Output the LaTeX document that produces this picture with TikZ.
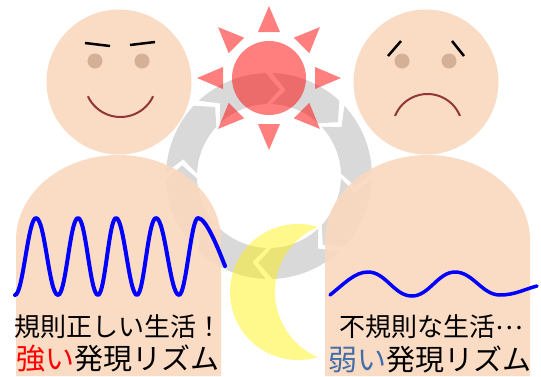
\documentclass[tikz,border=0pt]{standalone}
\usepackage{fontspec}
\newfontfamily\jp{Noto Sans CJK JP}
\definecolor{skin}{RGB}{250,215,190}
\definecolor{eyecol}{RGB}{212,176,150}
\definecolor{mouthcol}{RGB}{145,55,55}
\definecolor{ringgray}{RGB}{217,217,217}
\definecolor{weakblue}{RGB}{65,110,170}
\tikzset{
  skinfill/.style={fill=skin, fill opacity=0.9},
  eye/.style={fill=eyecol},
  brow/.style={draw=black, line width=2.5pt, line cap=butt},
  mouth/.style={draw=mouthcol, line width=2pt},
  wave/.style={draw=blue, line width=4pt, line cap=round, line join=round},
  ringseg/.style={fill=ringgray},
  sunpart/.style={fill=red, fill opacity=0.5},
  moonpart/.style={fill=yellow, fill opacity=0.45},
  caption/.style={font=\jp\fontsize{26}{26}\selectfont, inner sep=0pt, anchor=center},
  bigcaption/.style={font=\jp\fontsize{29}{29}\selectfont, inner sep=0pt, anchor=center},
}
\begin{document}
\begin{tikzpicture}[x=1pt, y=-1pt]
\useasboundingbox (0,0) rectangle (541,376);

% cycle ring: eight chevron arc segments running clockwise
\begin{scope}[shift={(269,176)}]
  \foreach \a in {0,45,...,315}{
    \fill[ringseg] (\a+2:103) arc[start angle=\a+2, end angle=\a+43, radius=103]
      -- (\a+52:87.5) -- (\a+43:72)
      arc[start angle=\a+43, end angle=\a+2, radius=72]
      -- (\a+11:87.5) -- cycle;
  }
\end{scope}

% sun
\coordinate (sun) at (269,78);
\fill[sunpart] (sun) circle[radius=37];
\begin{scope}[shift={(sun)}]
  \foreach \a in {0,45,...,315}{
    \fill[sunpart, rotate=\a] (46,-11) -- (72,0) -- (46,11) -- cycle;
  }
\end{scope}

% moon crescent
\begin{scope}
  \clip (298,292) circle[radius=68];
  \fill[moonpart, even odd rule] (298,292) circle[radius=68] (346,292) circle[radius=71];
\end{scope}

% bodies
\fill[skinfill] (16,376) -- (16,240) arc[start angle=180, end angle=360, x radius=102.5, y radius=85] -- (221,376) -- cycle;
\fill[skinfill] (325,376) -- (325,240) arc[start angle=180, end angle=360, x radius=102.5, y radius=85] -- (530,376) -- cycle;

% heads
\fill[skinfill] (119,82) circle[radius=72.5];
\fill[skinfill] (426,82) circle[radius=72.5];

% happy face
\fill[eye] (95,61) circle[radius=7.5];
\fill[eye] (142,61) circle[radius=7.5];
\draw[brow] (85,43) -- (110,46);
\draw[brow] (130,45) -- (155,42);
\draw[mouth] (120.5,81) ++(155:36) arc[start angle=155, end angle=25, radius=36];

% sad face
\fill[eye] (402,61) circle[radius=7.5];
\fill[eye] (449,61) circle[radius=7.5];
\draw[brow] (388,56) -- (401,41);
\draw[brow] (452,41) -- (464,56);
\draw[mouth] (427.5,129) ++(202:35) arc[start angle=202, end angle=338, radius=35];

% strong rhythm
\draw[wave] (15,295) .. controls (23,295) and (28,218) .. (36,218)
  .. controls (45,218) and (49,295) .. (58,295)
  .. controls (66,295) and (70,218) .. (78,218)
  .. controls (86,218) and (90,295) .. (98,295)
  .. controls (105,295) and (109,218) .. (116,218)
  .. controls (124,218) and (129,295) .. (137,295)
  .. controls (144,295) and (148,218) .. (156,218)
  .. controls (165,218) and (170,295) .. (179,295)
  .. controls (186,295) and (191,218) .. (198,218)
  .. controls (206,218) and (218,248) .. (225,266);

% weak rhythm
\draw[wave, line width=3.5pt] (330,295) .. controls (345,283) and (355,272) .. (368,272)
  .. controls (386,272) and (394,296) .. (412,296)
  .. controls (429,296) and (438,272) .. (455,272)
  .. controls (473,272) and (482,295) .. (500,295)
  .. controls (515,295) and (525,289) .. (537,286);

% captions
\node[caption] (goodlife) at (118,327) {規則正しい生活！};
\node[bigcaption] (strong) at (118,358) {\textcolor{red}{強い}発現リズム};
\node[caption] (badlife) at (431,327) {不規則な生活\raisebox{0.3em}{…}};
\node[bigcaption] (weak) at (430,359) {\textcolor{weakblue}{弱い}発現リズム};
\end{tikzpicture}
\end{document}
